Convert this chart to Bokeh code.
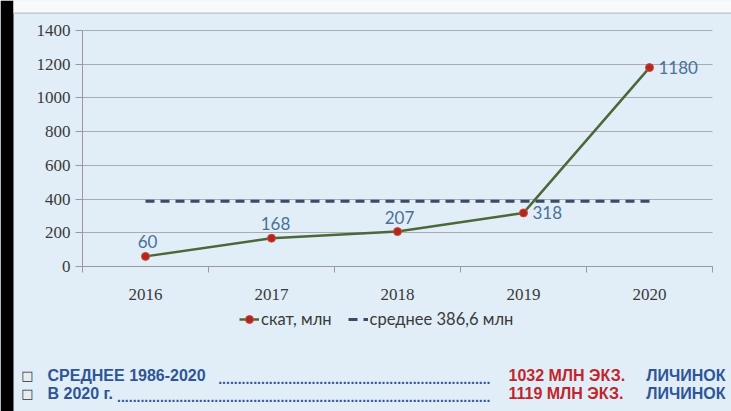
from bokeh.plotting import figure
from bokeh.models import (Range1d, FixedTicker, Legend, LegendItem, Label,
                          ColumnDataSource, LabelSet, BoxAnnotation, LinearAxis, Grid)
from bokeh.core.properties import value
from bokeh.embed import file_html
from bokeh.resources import INLINE

# ---- data ----
years = ["2016", "2017", "2018", "2019", "2020"]
values = [60, 168, 207, 318, 1180]
mean_value = 386.6
y_ticks = [0, 200, 400, 600, 800, 1000, 1200, 1400]
series_label = "скат, млн"
mean_label = "среднее 386,6 млн"
note1_left = "СРЕДНЕЕ 1986-2020"
note1_num = "1032"
note2_left = "В 2020 г."
note2_num = "1119"
note_unit = "МЛН ЭКЗ."
note_tail = "ЛИЧИНОК"

# ---- layout geometry (pixels) ----
W, H = 731, 411
FL, FR, FT, FB = 82, 712, 30, 266     # chart area within the canvas
Y0, Y1 = 0, 1400
n = len(years)
px_per_x = (FR - FL) / n
px_per_y = (FB - FT) / (Y1 - Y0)
x_start = -0.5 - FL / px_per_x
x_end = n - 0.5 + (W - FR) / px_per_x
y_start = Y0 - (H - FB) / px_per_y
y_end = Y1 + FT / px_per_y

BG = "#e1eef7"
BLUE_TXT = "#2f5597"
RED_TXT = "#c0262c"
AX = "#9a9a9a"

xs = list(range(n))

p = figure(width=W, height=H, output_backend="svg", toolbar_location=None,
           x_range=Range1d(x_start, x_end), y_range=Range1d(y_start, y_end),
           x_axis_location=None, y_axis_location=None, min_border=0)
p.background_fill_color = BG
p.border_fill_color = BG
p.outline_line_color = None
p.xgrid.visible = False
p.ygrid.visible = False

# grid lines limited to the chart area
g = Grid(dimension=1, ticker=FixedTicker(ticks=y_ticks), grid_line_color="#a8adb2",
         grid_line_width=1)
try:
    g.cross_bounds = (-0.5, n - 0.5)
    p.add_layout(g)
except Exception:
    p.segment(x0=[-0.5] * len(y_ticks), x1=[n - 0.5] * len(y_ticks), y0=y_ticks, y1=y_ticks,
              line_color="#a8adb2", line_width=1)

# axes pinned to the chart area
yax = LinearAxis(fixed_location=-0.5, bounds=(Y0, Y1), ticker=FixedTicker(ticks=y_ticks))
xax = LinearAxis(fixed_location=Y0, bounds=(-0.5, n - 0.5),
                 ticker=FixedTicker(ticks=xs, minor_ticks=[i - 0.5 for i in range(n + 1)]),
                 major_label_overrides={i: y for i, y in enumerate(years)})
for ax in (xax, yax):
    ax.axis_line_color = AX
    ax.major_label_text_font = "Liberation Serif"
    ax.major_label_text_font_size = "17px"
    ax.major_label_text_color = "#3a3a3a"
yax.major_tick_line_color = AX
yax.major_tick_out = 7
yax.major_tick_in = 0
yax.minor_tick_line_color = None
yax.major_label_standoff = 5
xax.major_tick_line_color = None
xax.major_tick_out = 0
xax.major_tick_in = 0
xax.minor_tick_line_color = AX
xax.minor_tick_out = 6
xax.minor_tick_in = 0
xax.major_label_standoff = 16
p.add_layout(yax, "left")
p.add_layout(xax, "below")

# mean dashed line
mean_r = p.line([xs[0], xs[-1]], [mean_value, mean_value], line_color="#3b4a6b",
                line_width=3, line_dash="9 6")

src = ColumnDataSource(dict(x=xs, y=values))
line_r = p.line("x", "y", source=src, line_color="#4c6838", line_width=2.5)
pt_r = p.scatter("x", "y", source=src, size=8, fill_color="#b3261e", line_color="#d04a3a",
                 line_width=1)

# data labels: first three above, last two to the right
k = 3
xoff = [2, 4, 2]
p.add_layout(LabelSet(x="x", y="y", text="t", source=ColumnDataSource(
                 dict(x=xs[:k], y=values[:k], t=[str(v) for v in values[:k]], xo=xoff)),
             x_offset="xo", y_offset=8, text_align="center", text_baseline="bottom",
             text_font=value("Lato"), text_font_size="17px", text_color="#4a7296"))
p.add_layout(LabelSet(x="x", y="y", text="t", source=ColumnDataSource(
                 dict(x=xs[k:], y=values[k:], t=[str(v) for v in values[k:]])),
             x_offset=9, y_offset=0, text_align="left", text_baseline="middle",
             text_font=value("Lato"), text_font_size="17px", text_color="#4a7296"))

legend = Legend(items=[LegendItem(label=series_label, renderers=[line_r, pt_r]),
                       LegendItem(label=mean_label, renderers=[mean_r])],
                orientation="horizontal", location=(239, H - 329),
                background_fill_alpha=0, border_line_color=None,
                label_text_font="Lato", label_text_font_size="16.5px",
                label_text_color="#3a3a3a", glyph_width=20, spacing=16,
                margin=0, padding=4, label_standoff=2)
p.add_layout(legend)

# decorative strips (screen units from canvas bottom-left)
def box(l, r, b, t, color):
    p.add_layout(BoxAnnotation(left=l, right=r, bottom=b, top=t,
                               left_units="screen", right_units="screen",
                               top_units="screen", bottom_units="screen",
                               fill_color=color, fill_alpha=1, line_color=None,
                               level="underlay"))

box(0, 13, 0, H, "black")
box(13, W, H - 12, H, "#f7f9fb")
box(13, W, H - 13.5, H - 12, "#c5cbd1")

# bottom notes
def note(x, y, text, color, align="left", size="16px", font="Liberation Sans", bold=True):
    p.add_layout(Label(x=x, y=y, x_units="screen", y_units="screen", text=text,
                       text_color=color, text_align=align, text_baseline="middle",
                       text_font=font, text_font_size=size,
                       text_font_style="bold" if bold else "normal"))

r1, r2 = H - 375, H - 393
note(27, r1, "\u25A1", "#333333", align="center", size="13px", font="DejaVu Sans", bold=False)
note(27, r2, "\u25A1", "#333333", align="center", size="13px", font="DejaVu Sans", bold=False)
note(47, r1, note1_left, BLUE_TXT)
note(47, r2, note2_left, BLUE_TXT)
note(490, r1 - 3, "." * 70, BLUE_TXT, align="right", size="14px")
note(490, r2 - 3, "." * 96, BLUE_TXT, align="right", size="14px")
note(508, r1, note1_num + " " + note_unit, RED_TXT)
note(508, r2, note2_num + "  " + note_unit, RED_TXT)
note(725, r1, note_tail, BLUE_TXT, align="right")
note(725, r2, note_tail, BLUE_TXT, align="right")

open("out.html", "w").write(file_html(p, INLINE))
